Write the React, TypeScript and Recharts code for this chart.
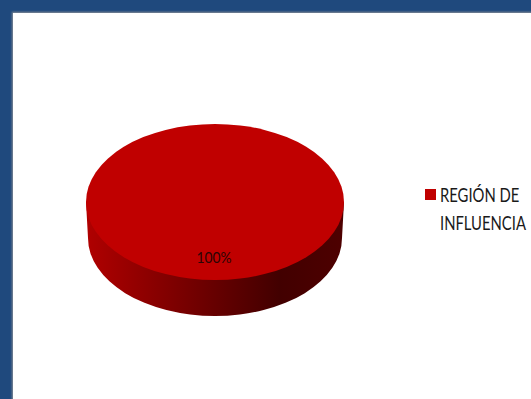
import React from "react";
import { PieChart, Pie, Cell, Legend } from "recharts";

const categories = ["REGIÓN DE INFLUENCIA"];
const values = [100];
const percentLabels = ["100%"];
const colors = ["#c00000"];

const chartData = categories.map((name, i) => ({ name, value: values[i] }));

const TILT = 0.605;
const DEPTH = 36;
const FONT = "Lato, 'Noto Sans', sans-serif";

function DiskShape(props: any) {
  const { cx, cy, outerRadius, fill } = props;
  const rx = outerRadius;
  const ry = outerRadius * TILT;
  const rb = rx - 2;
  return (
    <g>
      <path
        d={`M ${cx - rx} ${cy} L ${cx - rb} ${cy + DEPTH} A ${rb} ${ry} 0 0 0 ${cx + rb} ${cy + DEPTH} L ${cx + rx} ${cy} Z`}
        fill="url(#sideGrad)"
      />
      <ellipse cx={cx} cy={cy} rx={rx} ry={ry} fill={fill} />
    </g>
  );
}

function PercentLabel(props: any) {
  const { cx, cy, index, outerRadius } = props;
  return (
    <text
      x={cx - 1}
      y={cy + outerRadius * 0.425}
      textAnchor="middle"
      dominantBaseline="central"
      fontFamily={FONT}
      fontSize={15}
      fill="#2a0505"
      transform={`translate(${(cx - 1) * 0.08} 0) scale(0.92 1)`}
    >
      {percentLabels[index]}
    </text>
  );
}

function LegendBox(props: any) {
  const { payload } = props;
  return (
    <div>
      {(payload || []).map((entry: any) => (
        <div
          key={entry.value}
          style={{
            position: "relative",
            paddingLeft: 15,
            fontFamily: FONT,
            fontSize: 19,
            lineHeight: "28px",
            color: "#1a1a1a",
          }}
        >
          <span
            style={{
              position: "absolute",
              left: 0,
              top: 8,
              width: 11,
              height: 11,
              background: entry.color,
            }}
          />
          <span
            style={{
              display: "block",
              width: 120,
              transform: "scaleX(0.78)",
              transformOrigin: "left center",
              whiteSpace: "pre-line",
            }}
          >
            {String(entry.value).replace("DE ", "DE\n")}
          </span>
        </div>
      ))}
    </div>
  );
}

export default function App() {
  return (
    <div
      style={{
        position: "absolute",
        left: 0,
        top: 0,
        width: 531,
        height: 399,
        overflow: "hidden",
        background: "#1f497d",
      }}
    >
      <div
        style={{
          position: "absolute",
          left: 13,
          top: 13,
          width: 518,
          height: 386,
          background: "#fff",
          boxShadow: "0 0 2px 1px #8a8f96",
        }}
      />
      <div style={{ position: "absolute", left: 0, top: 0 }}>
        <PieChart width={531} height={399} margin={{ top: 0, right: 0, bottom: 0, left: 0 }}>
          <defs>
            <linearGradient id="sideGrad" x1="0" y1="0" x2="1" y2="0">
              <stop offset="0" stopColor="#b00000" />
              <stop offset="0.5" stopColor="#660000" />
              <stop offset="0.75" stopColor="#420000" />
              <stop offset="1" stopColor="#4e0000" />
            </linearGradient>
          </defs>
          <Pie
            data={chartData}
            dataKey="value"
            nameKey="name"
            cx={215}
            cy={202}
            outerRadius={129}
            startAngle={90}
            endAngle={-270}
            stroke="none"
            shape={DiskShape}
            label={PercentLabel}
            labelLine={false}
            isAnimationActive={false}
          >
            {chartData.map((d, i) => (
              <Cell key={d.name} fill={colors[i]} />
            ))}
          </Pie>
          <Legend
            layout="vertical"
            align="right"
            verticalAlign="top"
            content={LegendBox}
            wrapperStyle={{ left: 425, top: 181, width: 106, right: "auto" }}
          />
        </PieChart>
      </div>
    </div>
  );
}
